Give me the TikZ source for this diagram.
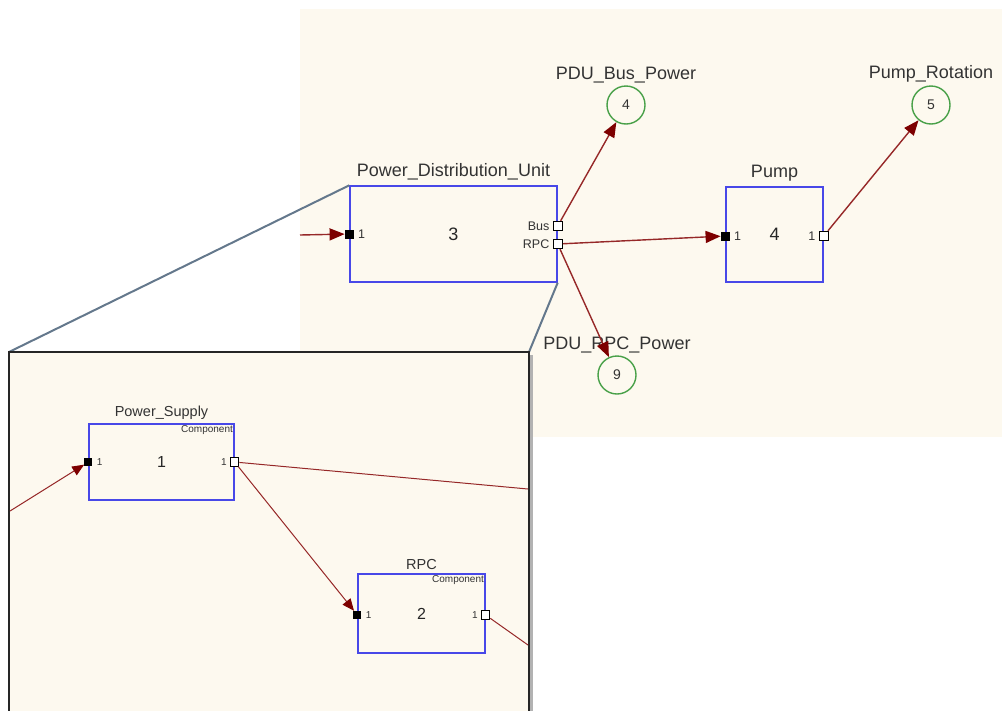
\documentclass[tikz,border=0pt]{standalone}
\usepackage{fontspec}
\setmainfont{Liberation Sans}
\usetikzlibrary{positioning,arrows.meta,calc}
\definecolor{canvas}{RGB}{253,249,239}
\definecolor{blockblue}{RGB}{72,72,232}
\definecolor{wirered}{RGB}{150,40,40}
\definecolor{tipred}{RGB}{125,0,0}
\definecolor{sinkgreen}{RGB}{72,160,72}
\definecolor{zoomgrey}{RGB}{100,120,140}
\newcommand{\sz}[1]{\fontsize{#1}{#1}\selectfont}

\begin{document}
\begin{tikzpicture}[x=1pt,y=-1pt,
    block/.style={draw=blockblue,line width=1.4pt,inner sep=0pt,font=\sz{18},text=black!85},
    inport/.style={fill=black,minimum size=9pt,inner sep=0pt},
    outport/.style={draw=black,fill=white,line width=0.9pt,minimum size=9.5pt,inner sep=0pt},
    sink/.style={circle,draw=sinkgreen,line width=1.4pt,minimum size=38pt,inner sep=0pt,font=\sz{14},text=black!80},
    title/.style={font=\sz{18},text=black!80,inner sep=1pt},
    pnum/.style={font=\sz{12.5},text=black!80,inner sep=1pt},
    comptag/.style={font=\sz{10},text=black!80,inner sep=0.5pt},
    wire/.style={wirered,line width=1.4pt,-{Triangle[length=15pt,width=12pt,color=tipred]}},
    feed/.style={wirered,line width=1pt,-{Triangle[length=12pt,width=10pt,color=tipred]}},
    thinwire/.style={wirered,line width=1pt},
  ]
  \useasboundingbox (0,0) rectangle (1002,710);
  \fill[canvas] (300,9) rectangle (1002,437);

  % top level model
  \node[block,minimum width=207pt,minimum height=96pt] (pdu) at (453.5,234) {3};
  \node[title,above=4pt of pdu] {Power\_Distribution\_Unit};
  \node[inport] (pduIn) at (pdu.west) {};
  \node[outport] (pduBus) at ($(pdu.east)+(0,-8)$) {};
  \node[outport] (pduRpc) at ($(pdu.east)+(0,10)$) {};
  \node[pnum,right=3pt of pduIn] {1};
  \node[pnum,left=2pt of pduBus] {Bus};
  \node[pnum,left=2pt of pduRpc] {RPC};

  \node[block,minimum width=97pt,minimum height=95pt] (pump) at (774.5,234.5) {4};
  \node[title,above=4pt of pump] {Pump};
  \node[inport] (pumpIn) at ($(pump.west)+(0,1.5)$) {};
  \node[outport] (pumpOut) at ($(pump.east)+(0,1.5)$) {};
  \node[pnum,right=3pt of pumpIn] {1};
  \node[pnum,left=2pt of pumpOut] {1};

  % outputs
  \node[sink] (busPower) at (626,105) {4};
  \node[title,above=1.5pt of busPower] {PDU\_Bus\_Power};
  \node[sink] (rotation) at (931,105) {5};
  \node[title,above=1.5pt of rotation] {Pump\_Rotation};
  \node[sink] (rpcPower) at (617,375) {9};
  \node[title,above=1.5pt of rpcPower] {PDU\_RPC\_Power};

  \coordinate (pduFeed) at (300,235);
  \draw[wire] (pduFeed) -- (pduIn);
  \draw[wire] (pduBus) -- (busPower);
  \draw[wire] (pduRpc) -- (pumpIn);
  \draw[wire] (pduRpc) -- (rpcPower);
  \draw[wire] (pumpOut) -- (rotation);

  % zoom into the PDU subsystem
  \coordinate (zoomNW) at (9,352);
  \coordinate (zoomNE) at (529,352);
  \draw[zoomgrey,line width=2pt] (zoomNW) -- (pdu.north west);
  \draw[zoomgrey,line width=2pt] (zoomNE) -- (pdu.south east);
  \fill[black!30] (12,355) rectangle (533,720);
  \draw[fill=canvas,draw=black!85,line width=1.5pt] (zoomNW) rectangle (529,720);

  \node[block,line width=1.2pt,minimum width=145pt,minimum height=76pt,font=\sz{16}] (supply) at (161.5,462) {1};
  \node[title,font=\sz{14.5},above=2.5pt of supply] {Power\_Supply};
  \node[comptag,below left=1pt and 1pt of supply.north east] {Component};
  \node[inport,minimum size=8pt] (supplyIn) at (supply.west) {};
  \node[outport,minimum size=8.5pt] (supplyOut) at (supply.east) {};
  \node[pnum,font=\sz{10},right=3pt of supplyIn] {1};
  \node[pnum,font=\sz{10},left=2pt of supplyOut] {1};

  \node[block,line width=1.2pt,minimum width=127pt,minimum height=79pt,font=\sz{16}] (rpc) at (421.5,613.5) {2};
  \node[title,font=\sz{14.5},above=2.5pt of rpc] {RPC};
  \node[comptag,below left=1pt and 1pt of rpc.north east] {Component};
  \node[inport,minimum size=8pt] (rpcIn) at ($(rpc.west)+(0,1.5)$) {};
  \node[outport,minimum size=8.5pt] (rpcOut) at ($(rpc.east)+(0,1.5)$) {};
  \node[pnum,font=\sz{10},right=3pt of rpcIn] {1};
  \node[pnum,font=\sz{10},left=2pt of rpcOut] {1};

  \coordinate (supplyFeed) at (10,511);
  \coordinate (supplyExit) at (528,489);
  \coordinate (rpcExit) at (528,645);
  \draw[feed] (supplyFeed) -- (supplyIn);
  \draw[feed] (supplyOut) -- (rpcIn);
  \draw[thinwire] (supplyOut) -- (supplyExit);
  \draw[thinwire] (rpcOut) -- (rpcExit);
\end{tikzpicture}
\end{document}
